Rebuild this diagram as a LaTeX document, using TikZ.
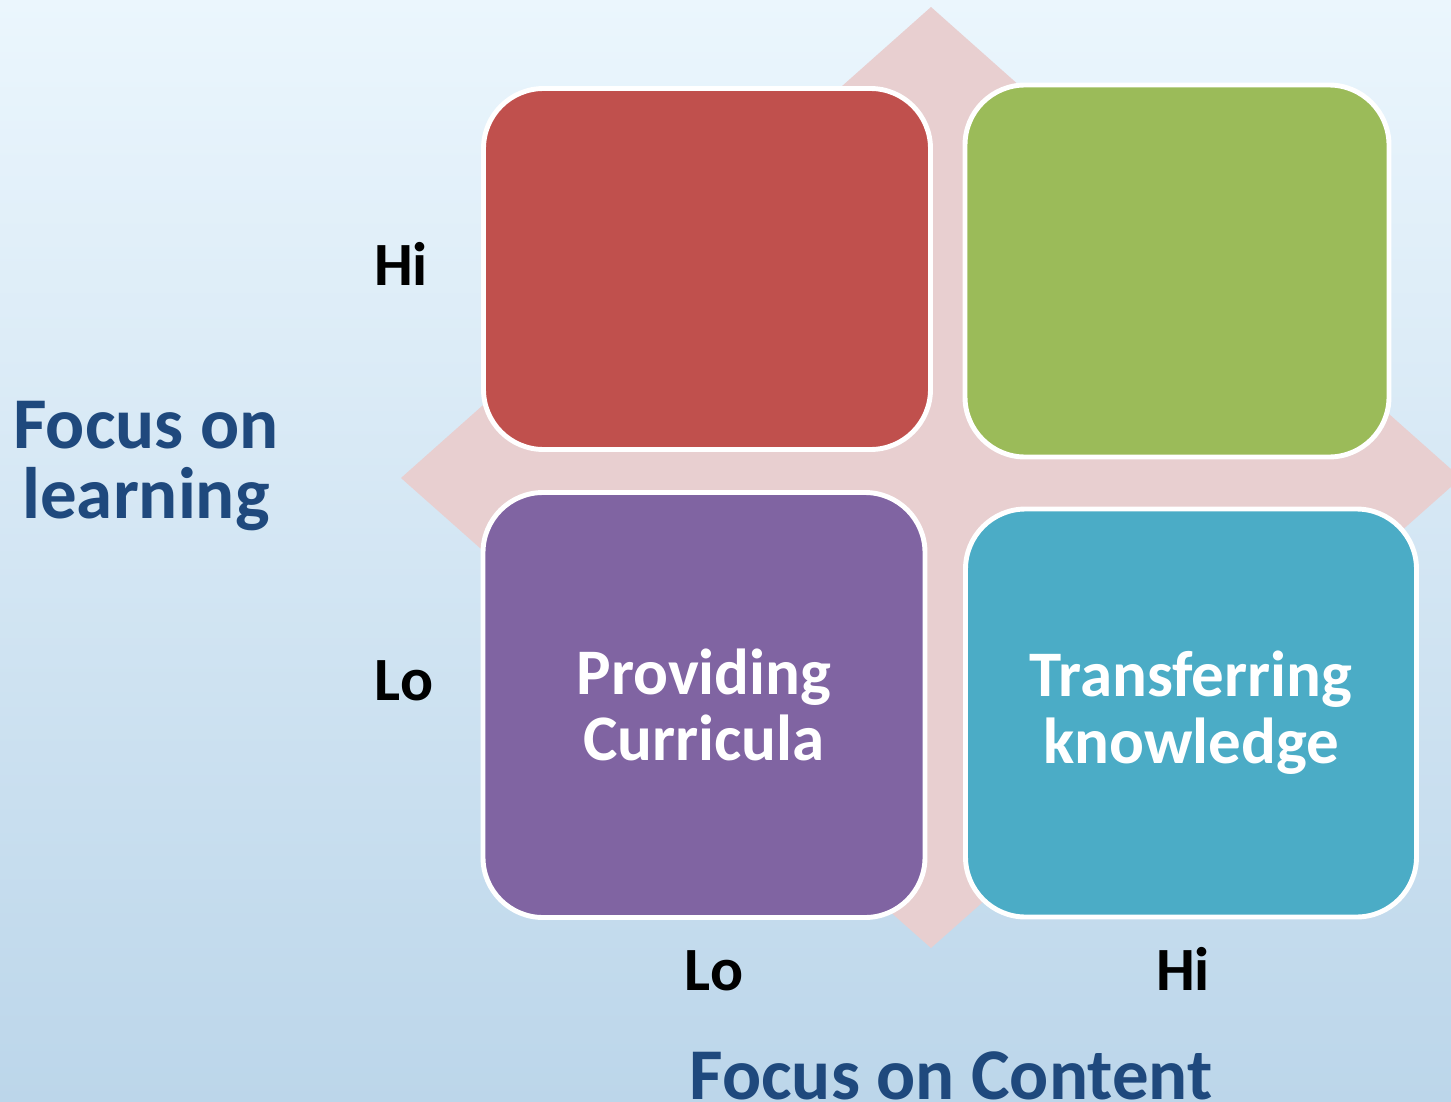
\documentclass[tikz,border=0pt]{standalone}
\usepackage{fontspec}
\setmainfont{Carlito}
\definecolor{bgtop}{HTML}{EBF6FD}
\definecolor{bgbot}{HTML}{BCD6EA}
\definecolor{arrowpink}{HTML}{E8CFD0}
\definecolor{quadred}{HTML}{C0504D}
\definecolor{quadgreen}{HTML}{9BBB59}
\definecolor{quadpurple}{HTML}{8064A2}
\definecolor{quadteal}{HTML}{4BACC6}
\definecolor{axisblue}{HTML}{1F497D}
\tikzset{
  quad/.style={draw=white,line width=2.8pt,rounded corners=1.2cm,align=center,
    text=white,font=\bfseries\fontsize{37}{38}\selectfont},
  level/.style={anchor=base,font=\bfseries\fontsize{35}{35}\selectfont},
  axis/.style={text=axisblue,align=center,font=\bfseries\fontsize{41.5}{40}\selectfont}
}
\begin{document}
\begin{tikzpicture}[x=0.02cm,y=-0.02cm]
\useasboundingbox (0,0) rectangle (1451,1102);
\shade[top color=bgtop,bottom color=bgbot] (0,0) rectangle (1451,1102);
\fill[arrowpink] (931,7) -- (1461,478) -- (931,948) -- (401,478) -- cycle;
\node[quad,fill=quadred,minimum width=447*0.02cm,minimum height=361*0.02cm] (q_hi_lo) at (707,269) {};
\node[quad,fill=quadgreen,minimum width=424*0.02cm,minimum height=372*0.02cm] (q_hi_hi) at (1177,271) {};
\node[quad,fill=quadpurple,minimum width=442*0.02cm,minimum height=425*0.02cm] (q_lo_lo) at (704,705) {Providing\\Curricula};
\node[quad,fill=quadteal,minimum width=451*0.02cm,minimum height=408*0.02cm] (q_lo_hi) at (1191,713) {Transferring\\knowledge};
\node[level] (y_hi) at (401,285) {Hi};
\node[level] (y_lo) at (404,700) {Lo};
\node[level] (x_lo) at (714,990) {Lo};
\node[level] (x_hi) at (1183,990) {Hi};
\node[axis] (y_axis) at (146,466) {Focus on\\learning};
\node[axis,anchor=base] (x_axis) at (951,1099) {Focus on Content};
\end{tikzpicture}
\end{document}
